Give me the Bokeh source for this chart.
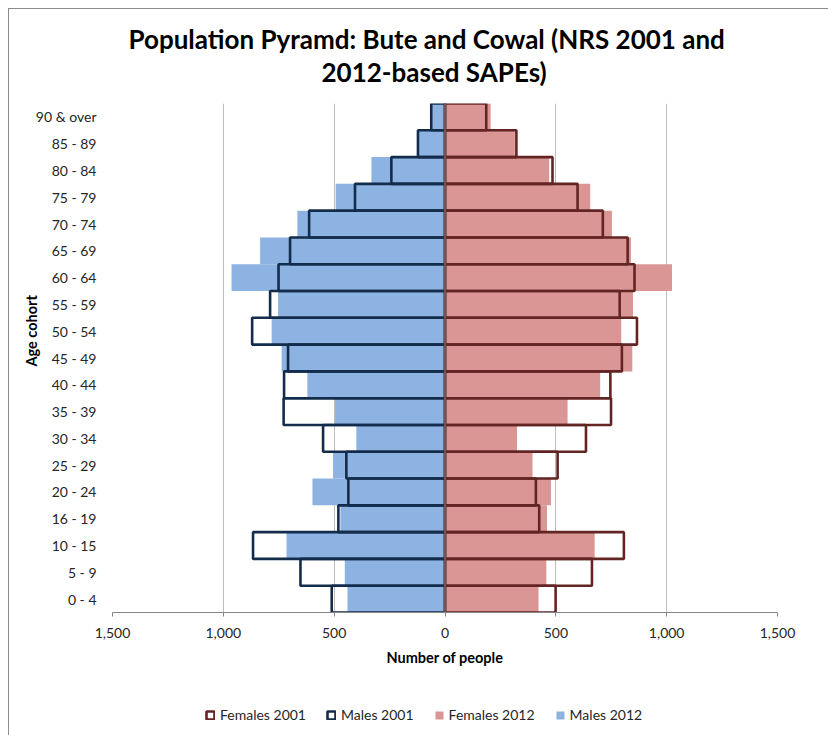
from bokeh.plotting import figure
from bokeh.layouts import column
from bokeh.models import (ColumnDataSource, FactorRange, Range1d, FixedTicker, Span,
                          Title, Legend, LegendItem)
from bokeh.embed import file_html
from bokeh.resources import INLINE

# ---- data (bottom to top) ----
age_groups = ["0 - 4", "5 - 9", "10 - 15", "16 - 19", "20 - 24", "25 - 29", "30 - 34",
              "35 - 39", "40 - 44", "45 - 49", "50 - 54", "55 - 59", "60 - 64", "65 - 69",
              "70 - 74", "75 - 79", "80 - 84", "85 - 89", "90 & over"]
males_2001 = [511, 652, 866, 481, 436, 445, 550, 728, 726, 708, 870, 789, 751, 699,
              613, 406, 242, 122, 62]
males_2012 = [440, 452, 715, 472, 598, 505, 400, 496, 621, 737, 782, 753, 963, 834,
              666, 493, 332, 118, 58]
females_2001 = [499, 663, 807, 425, 410, 508, 636, 749, 746, 798, 866, 788, 855, 824,
                712, 598, 485, 322, 186]
females_2012 = [422, 457, 675, 460, 478, 395, 325, 553, 700, 845, 795, 848, 1024, 839,
                753, 655, 470, 315, 206]
x_ticks = [-1500, -1000, -500, 0, 500, 1000, 1500]
x_tick_labels = ["1,500", "1,000", "500", "0", "500", "1,000", "1,500"]
series_labels = ["Females 2001", "Males 2001", "Females 2012", "Males 2012"]

FONT = "Lato"
TXT = "#262626"
C_F01 = "#632523"
C_M01 = "#142c4c"
C_F12 = "#d99694"
C_M12 = "#8db3e2"

src = ColumnDataSource(dict(
    age=age_groups,
    m01=[-v for v in males_2001],
    m12=[-v for v in males_2012],
    f01=females_2001,
    f12=females_2012,
))

p = figure(width=819, height=681, output_backend="svg", toolbar_location=None,
           y_range=FactorRange(*age_groups, range_padding=0),
           x_range=Range1d(-1500, 1500),
           frame_width=665, frame_height=509,
           min_border_left=103, min_border_right=51, min_border_top=94, min_border_bottom=78)
p.outline_line_color = None
p.background_fill_color = "white"
p.border_fill_color = "white"

# grid
p.ygrid.grid_line_color = None
p.xgrid.ticker = FixedTicker(ticks=x_ticks)
p.xgrid.grid_line_color = "#bdbdbd"
p.xgrid.grid_line_width = 1

# x axis
xa = p.xaxis[0]
xa.ticker = FixedTicker(ticks=x_ticks)
xa.major_label_overrides = {t: l for t, l in zip(x_ticks, x_tick_labels)}
xa.axis_line_color = "#868686"
xa.major_tick_line_color = "#868686"
xa.major_tick_out = 4
xa.major_tick_in = 0
xa.minor_tick_line_color = None
xa.major_label_standoff = 11
xa.major_label_text_font = FONT
xa.major_label_text_font_size = "14px"
xa.major_label_text_color = TXT
xa.axis_label = "Number of people"
xa.axis_label_text_font = FONT
xa.axis_label_text_font_style = "bold"
xa.axis_label_text_font_size = "14.5px"
xa.axis_label_text_color = "black"
xa.axis_label_standoff = 8

# y axis
ya = p.yaxis[0]
ya.axis_line_color = None
ya.major_tick_line_color = None
ya.major_tick_out = 0
ya.major_tick_in = 0
ya.major_label_standoff = 16
ya.major_label_text_font = FONT
ya.major_label_text_font_size = "14px"
ya.major_label_text_color = TXT

# y axis title as a left-side title, placed along the axis like the reference
p.add_layout(Title(text="Age cohort", align="left", offset=246, standoff=-14,
                   text_font=FONT, text_font_style="bold", text_font_size="14.5px",
                   text_color="black"), "left")

# bars: 2012 filled
p.hbar(y="age", left="m12", right=0, height=1.0, source=src,
       fill_color=C_M12, line_color=None)
p.hbar(y="age", left=0, right="f12", height=1.0, source=src,
       fill_color=C_F12, line_color=None)

# zero (category) axis line
p.add_layout(Span(location=0, dimension="height", line_color="#868686", line_width=1))

# bars: 2001 outlines
p.hbar(y="age", left="m01", right=0, height=1.0, source=src,
       fill_color=None, line_color=C_M01, line_width=2.6)
p.hbar(y="age", left=0, right="f01", height=1.0, source=src,
       fill_color=None, line_color=C_F01, line_width=2.6)

# title lines (first item in "above" sits closest to the plot)
p.add_layout(Title(text="2012-based SAPEs)", align="left", offset=209, standoff=31,
                   text_font=FONT, text_font_style="bold", text_font_size="26px",
                   text_color="black"), "above")
p.add_layout(Title(text="Population Pyramd: Bute and Cowal (NRS 2001 and", align="left",
                   offset=16, standoff=-32, text_font=FONT, text_font_style="bold",
                   text_font_size="26px", text_color="black"), "above")

# ---- legend strip (a small figure under the chart) ----
lg = figure(width=819, height=45, output_backend="svg", toolbar_location=None,
            x_axis_type=None, y_axis_type=None, x_range=Range1d(0, 1), y_range=Range1d(0, 1),
            min_border=0)
lg.outline_line_color = None
lg.background_fill_color = "white"
lg.border_fill_color = "white"
lg.grid.visible = False

# legend carriers: one zero-width entry lying outside the strip's visible range
carrier = ColumnDataSource(dict(y=[-10], l=[0], r=[0]))
k_f01 = lg.hbar(y="y", left="l", right="r", height=1.0, source=carrier,
                fill_color=None, line_color=C_F01, line_width=2.6)
k_m01 = lg.hbar(y="y", left="l", right="r", height=1.0, source=carrier,
                fill_color=None, line_color=C_M01, line_width=2.6)
k_f12 = lg.hbar(y="y", left="l", right="r", height=1.0, source=carrier,
                fill_color=C_F12, line_color=None)
k_m12 = lg.hbar(y="y", left="l", right="r", height=1.0, source=carrier,
                fill_color=C_M12, line_color=None)

legend = Legend(items=[LegendItem(label=lab, renderers=[r]) for lab, r in
                       zip(series_labels, [k_f01, k_m01, k_f12, k_m12])],
                orientation="horizontal", location=(93, 12),
                glyph_width=10, glyph_height=10, label_standoff=5, spacing=20,
                padding=0, margin=0, border_line_color=None, background_fill_alpha=0,
                label_text_font=FONT, label_text_font_size="14px", label_text_color=TXT,
                label_height=14)
lg.add_layout(legend, "center")

layout = column(p, lg, spacing=0,
                styles={"margin-left": "8px", "margin-top": "8px",
                        "border-left": "1px solid #8c8c8c", "border-top": "1px solid #8c8c8c"})

open("out.html", "w").write(file_html(layout, INLINE))
